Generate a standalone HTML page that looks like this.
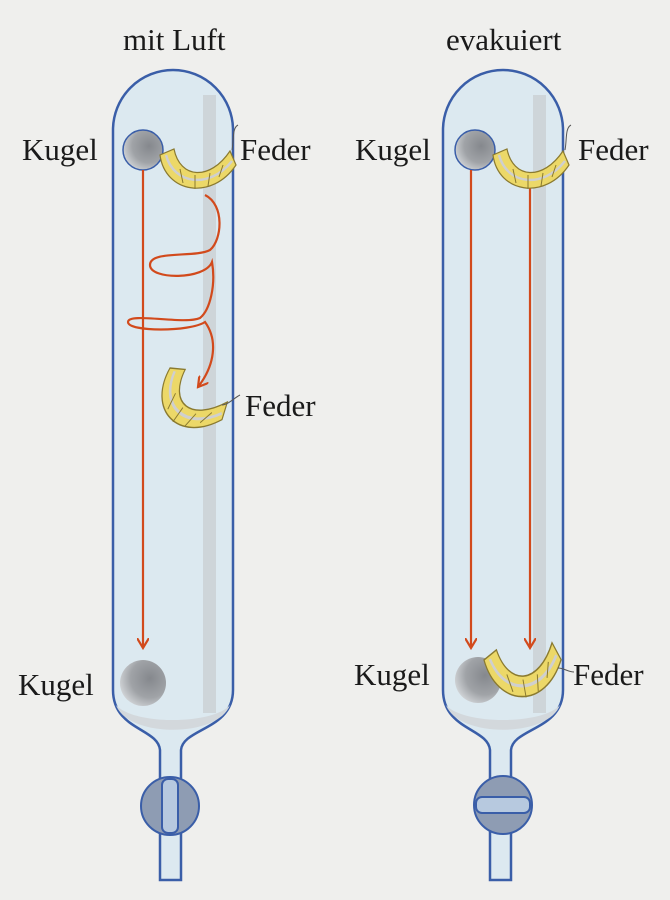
<!DOCTYPE html>
<html><head><style>
body{margin:0;background:#efefed;}
svg{display:block}
text{font-family:"Liberation Serif",serif;font-size:31px;fill:#1a1a1a}
</style></head><body>
<svg width="670" height="900" viewBox="0 0 670 900">
<defs>
<radialGradient id="ball" cx="0.65" cy="0.4" r="0.7">
<stop offset="0" stop-color="#85888d"/><stop offset="0.6" stop-color="#a0a3a7"/><stop offset="1" stop-color="#d3d6d9"/>
</radialGradient>
<marker id="ar" markerWidth="12" markerHeight="12" refX="10" refY="6" orient="auto" markerUnits="userSpaceOnUse">
<path d="M0,0 L10,6 L0,12" fill="none" stroke="#d24a1c" stroke-width="2.2"/>
</marker>
<g id="tube">
<path d="M0,60 A60,60 0 0 1 120,60 L120,620 C120,660 70,658 68,680 L68,810 L47,810 L47,680 C45,658 0,660 0,620 Z" fill="#dce9f0" stroke="#3a5ea8" stroke-width="2.5"/>
<rect x="90" y="25" width="13" height="618" fill="#c9cdd1" opacity="0.75"/>
<path d="M3,635 C15,668 105,668 117,635 C100,655 20,655 3,635Z" fill="#d3d8dc"/>
</g>
<g id="feather">
<path d="M0,0 C5,38 52,46 76,10 L70,-4 C50,26 20,24 14,-6 Z" fill="#ecd868" stroke="#8a7a30" stroke-width="1.2"/>
<path d="M6,0 C14,30 50,34 72,6" fill="none" stroke="#cfcfcf" stroke-width="2.5"/>
<path d="M20,14 l3,14 M35,20 l0,14 M50,18 l-2,13 M63,10 l-4,12" stroke="#8a7a30" stroke-width="1"/>
</g>
</defs>
<text x="123" y="50">mit Luft</text>
<text x="446" y="50">evakuiert</text>

<use href="#tube" x="113" y="70"/>
<use href="#tube" x="443" y="70"/>

<circle cx="170" cy="806" r="29" fill="#8e9cb3" stroke="#3a5ea8" stroke-width="2"/>
<rect x="162" y="779" width="16" height="54" rx="6" fill="#b7c9df" stroke="#3a5ea8" stroke-width="2"/>
<circle cx="503" cy="805" r="29" fill="#8e9cb3" stroke="#3a5ea8" stroke-width="2"/>
<rect x="476" y="797" width="54" height="16" rx="6" fill="#b7c9df" stroke="#3a5ea8" stroke-width="2"/>

<circle cx="143" cy="150" r="20" fill="url(#ball)" stroke="#3a5ea8" stroke-width="1.5"/>
<circle cx="143" cy="683" r="23" fill="url(#ball)"/>
<circle cx="475" cy="150" r="20" fill="url(#ball)" stroke="#3a5ea8" stroke-width="1.5"/>
<circle cx="478" cy="680" r="23" fill="url(#ball)"/>

<g fill="none" stroke="#d24a1c" stroke-width="2.2">
<line x1="143" y1="170" x2="143" y2="648" marker-end="url(#ar)"/>
<path d="M205,195 C225,205 222,240 210,250 C195,258 150,250 150,265 C150,280 205,280 212,262 C216,285 210,310 200,318 C185,325 128,312 128,322 C128,332 190,332 205,322 C218,340 215,365 198,387" marker-end="url(#ar)"/>
<line x1="471" y1="170" x2="471" y2="648" marker-end="url(#ar)"/>
<line x1="530" y1="185" x2="530" y2="648" marker-end="url(#ar)"/>
</g>

<use href="#feather" transform="translate(160,155)"/>
<path d="M232,150 C234,140 232,128 238,125" stroke="#555" fill="none"/>
<use href="#feather" transform="translate(170,368) rotate(35) scale(0.95,1.25)"/>
<path d="M222,405 C228,405 234,398 240,395" stroke="#555" fill="none"/>
<use href="#feather" transform="translate(493,155)"/>
<path d="M565,150 C567,140 565,128 571,125" stroke="#555" fill="none"/>
<use href="#feather" transform="translate(484,660) rotate(-10) scale(1,1.3)"/>
<path d="M558,668 C564,668 568,672 574,672" stroke="#555" fill="none"/>

<text x="22" y="160">Kugel</text>
<text x="240" y="160">Feder</text>
<text x="245" y="416">Feder</text>
<text x="18" y="695">Kugel</text>
<text x="355" y="160">Kugel</text>
<text x="578" y="160">Feder</text>
<text x="354" y="685">Kugel</text>
<text x="573" y="685">Feder</text>
</svg>
</body></html>
